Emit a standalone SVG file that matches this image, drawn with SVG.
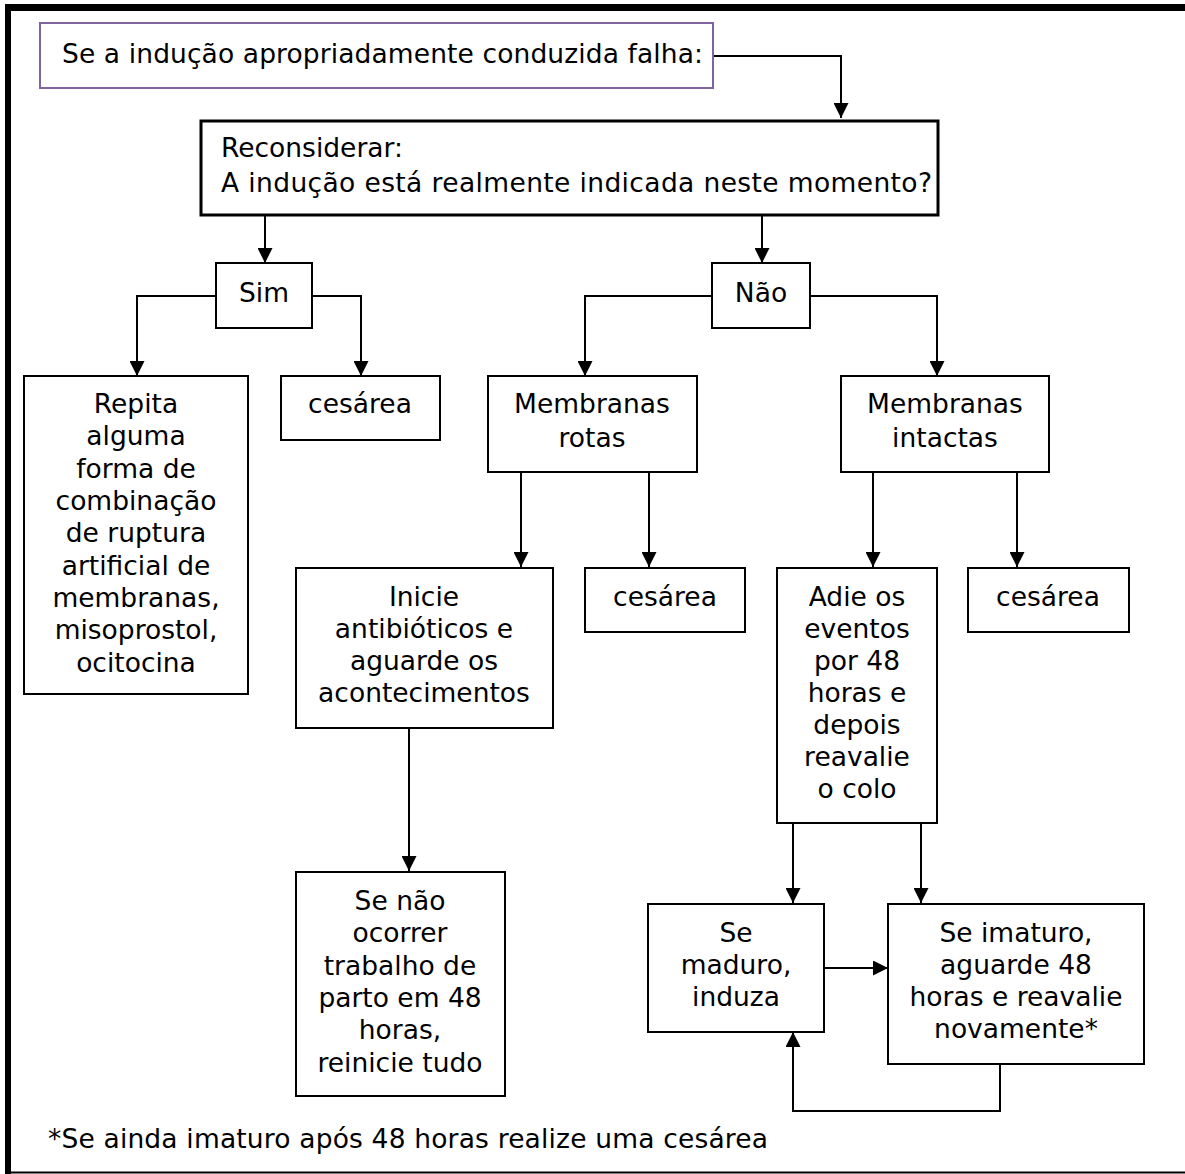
<svg xmlns="http://www.w3.org/2000/svg" width="1185" height="1174" viewBox="0 0 1185 1174">
<defs>
<style>
.b{fill:#fff;stroke:#000;stroke-width:2}
.t{font-family:"DejaVu Sans",sans-serif;font-size:26.5px;fill:#000}
.c{text-anchor:middle}
.ln{fill:none;stroke:#000;stroke-width:2}
</style>
<marker id="ah" markerWidth="16" markerHeight="15" refX="15" refY="7.5" orient="auto" markerUnits="userSpaceOnUse">
<path d="M0,0 L15,7.5 L0,15 Z" fill="#000"/>
</marker>
</defs>
<rect width="1185" height="1174" fill="#fff"/>
<g id="frame">
<rect x="5" y="4" width="1180" height="7" fill="#000"/>
<rect x="5" y="4" width="6" height="1170" fill="#000"/>
<line x1="5" y1="1172.5" x2="1185" y2="1172.5" stroke="#000" stroke-width="2"/>
</g>
<g id="connectors">
<path class="ln" d="M713,56 H841 V118" marker-end="url(#ah)"/>
<path class="ln" d="M265,216 V263" marker-end="url(#ah)"/>
<path class="ln" d="M762,216 V263" marker-end="url(#ah)"/>
<path class="ln" d="M216,296 H137 V376" marker-end="url(#ah)"/>
<path class="ln" d="M312,296 H361 V376" marker-end="url(#ah)"/>
<path class="ln" d="M712,296 H585 V376" marker-end="url(#ah)"/>
<path class="ln" d="M810,296 H937 V376" marker-end="url(#ah)"/>
<path class="ln" d="M521,472 V567" marker-end="url(#ah)"/>
<path class="ln" d="M649,472 V567" marker-end="url(#ah)"/>
<path class="ln" d="M873,472 V567" marker-end="url(#ah)"/>
<path class="ln" d="M1017,472 V567" marker-end="url(#ah)"/>
<path class="ln" d="M409,728 V871" marker-end="url(#ah)"/>
<path class="ln" d="M793,823 V903" marker-end="url(#ah)"/>
<path class="ln" d="M921,823 V903" marker-end="url(#ah)"/>
<path class="ln" d="M824,968 H888" marker-end="url(#ah)"/>
<path class="ln" d="M1000,1064 V1111 H793 V1032" marker-end="url(#ah)"/>
</g>
<g id="n_start">
<rect x="40" y="23" width="673" height="65" fill="#fff" stroke="#8064A2" stroke-width="2"/>
<text class="t" x="62" y="63" textLength="641" lengthAdjust="spacing">Se a indução apropriadamente conduzida falha:</text>
</g>
<g id="n_reconsider">
<rect x="201" y="121" width="737" height="94" fill="#fff" stroke="#000" stroke-width="3"/>
<text class="t" x="221" y="157">Reconsiderar:</text>
<text class="t" x="221" y="192" textLength="711" lengthAdjust="spacing">A indução está realmente indicada neste momento?</text>
</g>
<g id="n_sim">
<rect class="b" x="216" y="263" width="96" height="65"/>
<text class="t c" x="264" y="302">Sim</text>
</g>
<g id="n_nao">
<rect class="b" x="712" y="263" width="98" height="65"/>
<text class="t c" x="761" y="302">Não</text>
</g>
<g id="n_repita">
<rect class="b" x="24" y="376" width="224" height="318"/>
<text class="t c" x="136" y="413">Repita</text>
<text class="t c" x="136" y="445">alguma</text>
<text class="t c" x="136" y="478">forma de</text>
<text class="t c" x="136" y="510">combinação</text>
<text class="t c" x="136" y="542">de ruptura</text>
<text class="t c" x="136" y="575">artificial de</text>
<text class="t c" x="136" y="607">membranas,</text>
<text class="t c" x="136" y="639">misoprostol,</text>
<text class="t c" x="136" y="672">ocitocina</text>
</g>
<g id="n_ces1">
<rect class="b" x="281" y="376" width="159" height="64"/>
<text class="t c" x="360" y="413">cesárea</text>
</g>
<g id="n_rotas">
<rect class="b" x="488" y="376" width="209" height="96"/>
<text class="t c" x="592" y="413">Membranas</text>
<text class="t c" x="592" y="447">rotas</text>
</g>
<g id="n_intactas">
<rect class="b" x="841" y="376" width="208" height="96"/>
<text class="t c" x="945" y="413">Membranas</text>
<text class="t c" x="945" y="447">intactas</text>
</g>
<g id="n_inicie">
<rect class="b" x="296" y="568" width="257" height="160"/>
<text class="t c" x="424" y="606">Inicie</text>
<text class="t c" x="424" y="638">antibióticos e</text>
<text class="t c" x="424" y="670">aguarde os</text>
<text class="t c" x="424" y="702">acontecimentos</text>
</g>
<g id="n_ces2">
<rect class="b" x="585" y="568" width="160" height="64"/>
<text class="t c" x="665" y="606">cesárea</text>
</g>
<g id="n_adie">
<rect class="b" x="777" y="568" width="160" height="255"/>
<text class="t c" x="857" y="606">Adie os</text>
<text class="t c" x="857" y="638">eventos</text>
<text class="t c" x="857" y="670">por 48</text>
<text class="t c" x="857" y="702">horas e</text>
<text class="t c" x="857" y="734">depois</text>
<text class="t c" x="857" y="766">reavalie</text>
<text class="t c" x="857" y="798">o colo</text>
</g>
<g id="n_ces3">
<rect class="b" x="968" y="568" width="161" height="64"/>
<text class="t c" x="1048" y="606">cesárea</text>
</g>
<g id="n_senao">
<rect class="b" x="296" y="872" width="209" height="224"/>
<text class="t c" x="400" y="910">Se não</text>
<text class="t c" x="400" y="942">ocorrer</text>
<text class="t c" x="400" y="975">trabalho de</text>
<text class="t c" x="400" y="1007">parto em 48</text>
<text class="t c" x="400" y="1039">horas,</text>
<text class="t c" x="400" y="1072">reinicie tudo</text>
</g>
<g id="n_maduro">
<rect class="b" x="648" y="904" width="176" height="128"/>
<text class="t c" x="736" y="942">Se</text>
<text class="t c" x="736" y="974">maduro,</text>
<text class="t c" x="736" y="1006">induza</text>
</g>
<g id="n_imaturo">
<rect class="b" x="888" y="904" width="256" height="160"/>
<text class="t c" x="1016" y="942">Se imaturo,</text>
<text class="t c" x="1016" y="974">aguarde 48</text>
<text class="t c" x="1016" y="1006">horas e reavalie</text>
<text class="t c" x="1016" y="1038">novamente*</text>
</g>
<g id="footnote">
<text class="t" x="48" y="1148" textLength="720" lengthAdjust="spacing">*Se ainda imaturo após 48 horas realize uma cesárea</text>
</g>
</svg>
